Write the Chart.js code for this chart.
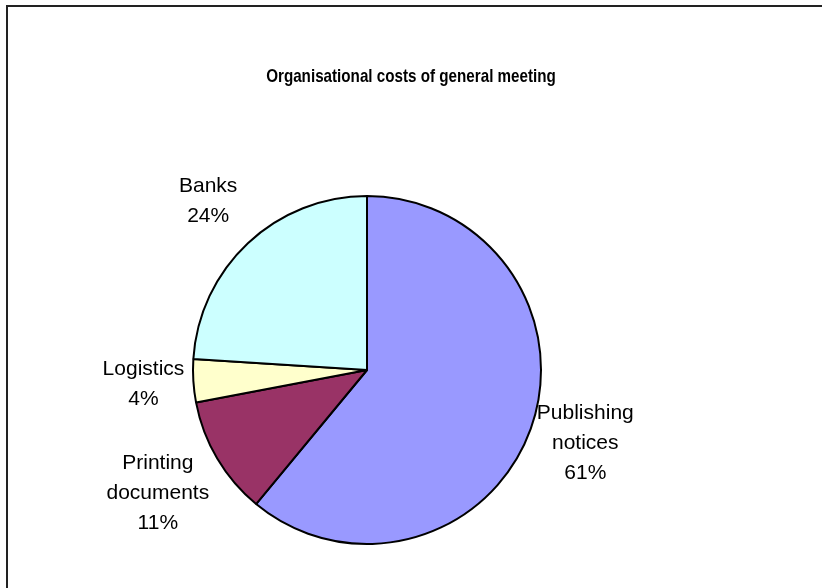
<!DOCTYPE html>
<html>
<head>
<meta charset="utf-8">
<script src="https://cdn.jsdelivr.net/npm/chart.js@4.4.1/dist/chart.umd.min.js"></script>
<style>
  html, body { margin: 0; padding: 0; background: #fff; }
  #wrap { width: 822px; height: 588px; position: relative; }
</style>
</head>
<body>
<div id="wrap"><canvas id="costPie" width="822" height="588"></canvas></div>
<script>
// ----------------- data -----------------
const chartTitle = 'Organisational costs of general meeting';
const categories = ['Publishing notices', 'Printing documents', 'Logistics', 'Banks'];
const costShares = [61, 11, 4, 24];
const sliceColors = ['#9999ff', '#993366', '#ffffcc', '#ccffff'];

const FONT = '"Liberation Sans", Arial, sans-serif';

// frame + title, drawn centred on the whole canvas (the pie sits left of centre)
const framePlugin = {
  id: 'frameTitle',
  beforeDraw(chart) {
    const c = chart.ctx;
    c.save();
    c.strokeStyle = '#222';
    c.lineWidth = 2;
    c.beginPath();
    c.moveTo(7, chart.height);
    c.lineTo(7, 6);
    c.lineTo(chart.width, 6);
    c.stroke();
    // narrow bold title
    c.fillStyle = '#000';
    c.font = 'bold 19px ' + FONT;
    c.textAlign = 'center';
    c.textBaseline = 'middle';
    c.translate(chart.width / 2, 77);
    c.scale(0.8, 1);
    c.fillText(chartTitle, 0, 0);
    c.restore();
  }
};

// category name + percentage outside each slice
const sliceLabels = {
  id: 'sliceLabels',
  afterDatasetsDraw(chart, args, opts) {
    const c = chart.ctx;
    const meta = chart.getDatasetMeta(0);
    const data = chart.data.datasets[0].data;
    const total = data.reduce((a, b) => a + b, 0);
    c.save();
    c.font = opts.size + 'px ' + FONT;
    c.fillStyle = '#000';
    c.textAlign = 'center';
    c.textBaseline = 'middle';
    meta.data.forEach((arc, i) => {
      const lines = chart.data.labels[i].split(' ');
      lines.push(Math.round(data[i] / total * 100) + '%');
      const mid = (arc.startAngle + arc.endAngle) / 2;
      const d = arc.outerRadius + opts.gap[i];
      const cx = arc.x + Math.cos(mid) * d;
      const cy = arc.y + Math.sin(mid) * d - opts.lift[i];
      const y0 = cy - (lines.length - 1) * opts.lineHeight / 2;
      lines.forEach((t, k) => c.fillText(t, cx, y0 + k * opts.lineHeight));
    });
    c.restore();
  }
};

new Chart(document.getElementById('costPie'), {
  type: 'pie',
  data: {
    labels: categories,
    datasets: [{
      data: costShares,
      backgroundColor: sliceColors,
      borderColor: '#000',
      borderWidth: 2,
      hoverOffset: 0,
      offset: 0
    }]
  },
  options: {
    responsive: false,
    animation: false,
    events: [],
    layout: { padding: { top: 195, bottom: 43, left: 192, right: 280 } },
    plugins: {
      legend: { display: false },
      title: { display: false },
      tooltip: { enabled: false },
      sliceLabels: { size: 21, lineHeight: 30, gap: [58, 69, 50, 58], lift: [5, 0, 0, 0] }
    }
  },
  plugins: [framePlugin, sliceLabels]
});
</script>
</body>
</html>
